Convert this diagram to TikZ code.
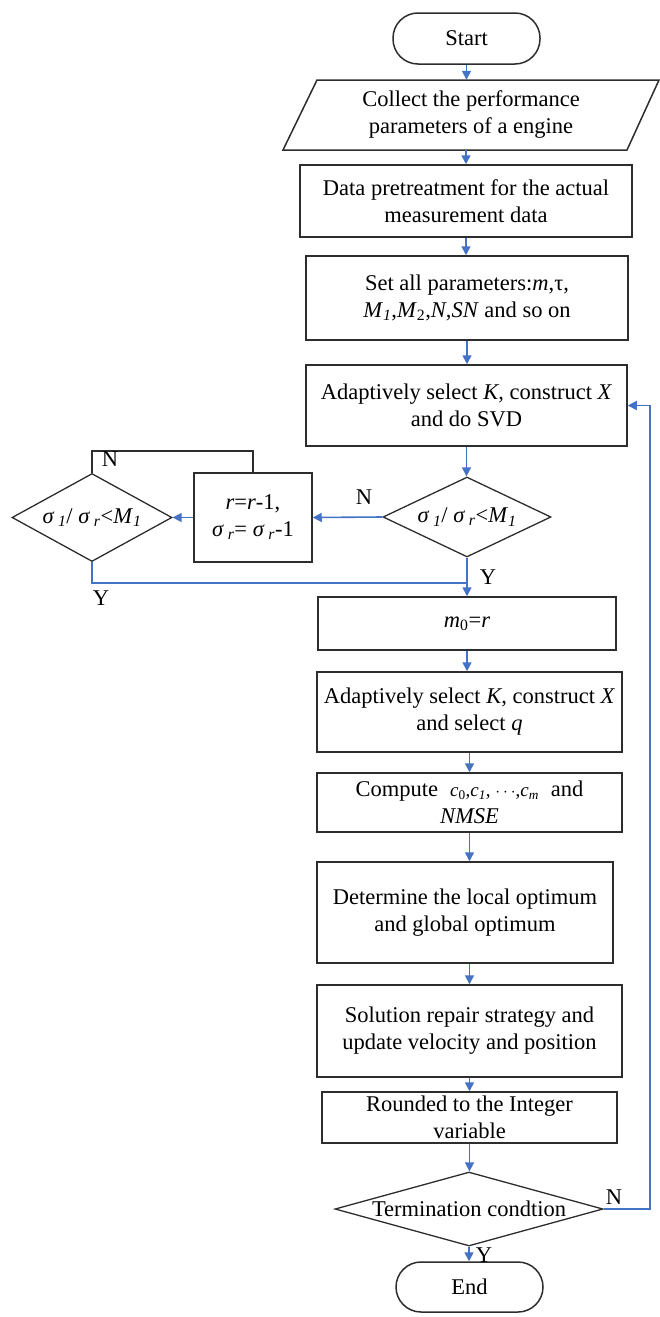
\documentclass[tikz,border=0pt]{standalone}
\usepackage{fontspec}
\setmainfont{Liberation Serif}
\usetikzlibrary{shapes.geometric,arrows.meta,calc}
\definecolor{flowblue}{RGB}{68,114,196}
\definecolor{edgegray}{RGB}{45,45,45}
\begin{document}
\begin{tikzpicture}[x=1pt,y=-1pt,
  every node/.style={font=\fontsize{22.5}{27}\selectfont},
  box/.style={draw=edgegray,line width=1.5pt,rectangle,inner sep=0pt,align=center},
  termbox/.style={draw=edgegray,line width=1.5pt,rectangle,rounded corners=25pt,inner sep=0pt},
  dia/.style={draw=edgegray,line width=1.3pt,diamond,inner sep=0pt},
  arr/.style={draw=flowblue,line width=1.6pt,-{Triangle[length=9pt,width=9pt]}},
  bl/.style={draw=flowblue,line width=1.6pt},
  blk/.style={draw=edgegray,line width=1.5pt},
  lab/.style={inner sep=0pt}]
\useasboundingbox (0,0) rectangle (660,1317);

% nodes
\node[termbox,minimum width=147pt,minimum height=51pt] (start) at (466.5,38.5) {Start};
\draw[blk] (317,80) -- (659,80) -- (627,150) -- (283,150) -- cycle;
\node[align=center,inner sep=0pt,minimum height=70pt,minimum width=300pt] (collect) at (471,115) {Collect the performance\\parameters of a engine};
\node[box,minimum width=332pt,minimum height=72pt] (data) at (466,201) {Data pretreatment for the actual\\measurement data};
\node[box,minimum width=322pt,minimum height=84pt] (setp) at (467,298) {Set all parameters:\textit{m},τ,\\\textit{M}\textsubscript{\textit{1}},\textit{M}\textsubscript{2},\textit{N},\textit{SN} and so on};
\node[box,minimum width=321pt,minimum height=81pt] (adaptA) at (466.5,405.5) {Adaptively select \textit{K}, construct \textit{X}\\and do SVD};
\node[dia,minimum width=168pt,minimum height=80pt] (dA) at (467,517) {};
\node at (dA) {\textit{σ}\,\textsubscript{\textit{1}}/ \textit{σ}\,\textsubscript{\textit{r}}<\textit{M}\textsubscript{\textit{1}}};
\node[box,minimum width=118pt,minimum height=89pt] (dec) at (253,517.5) {\textit{r}=\textit{r}-1,\\\textit{σ}\,\textsubscript{\textit{r}}= \textit{σ}\,\textsubscript{\textit{r}}-1};
\node[dia,minimum width=160pt,minimum height=88pt] (dB) at (92,517.5) {};
\node at (dB) {\textit{σ}\,\textsubscript{\textit{1}}/ \textit{σ}\,\textsubscript{\textit{r}}<\textit{M}\textsubscript{\textit{1}}};
\node[box,minimum width=298pt,minimum height=53pt] (mzero) at (467,623.5) {\textit{m}\textsubscript{0}=\textit{r}};
\node[box,minimum width=305pt,minimum height=80pt] (adaptB) at (469.5,712) {Adaptively select \textit{K}, construct \textit{X}\\and select \textit{q}};
\node[box,minimum width=305pt,minimum height=59pt] (comp) at (469.5,802.5) {Compute\; {\fontsize{19}{27}\selectfont\textit{c}\textsubscript{0},\textit{c}\textsubscript{\textit{1}}, $\cdots$,\textit{c}\textsubscript{\textit{m}}}\; and\\\textit{NMSE}};
\node[box,minimum width=296pt,minimum height=101pt] (determ) at (465,912.5) {Determine the local optimum\\and global optimum};
\node[box,minimum width=305pt,minimum height=92pt] (sol) at (469.5,1031) {Solution repair strategy and\\update velocity and position};
\node[box,minimum width=295pt,minimum height=51pt] (rnd) at (469.5,1117.5) {Rounded to the Integer\\variable};
\node[dia,minimum width=268pt,minimum height=74pt] (termd) at (469,1209) {};
\node at (termd) {Termination condtion};
\node[termbox,minimum width=147pt,minimum height=50pt] (stop) at (469.5,1287) {End};

% connectors
\draw[arr] (start.south) -- (start.south |- collect.north);
\draw[arr] (data.north |- collect.south) -- (data.north);
\draw[arr] (data.south) -- (data.south |- setp.north);
\draw[arr] (setp.south) -- (setp.south |- adaptA.north);
\draw[arr] (adaptA.south) -- (adaptA.south |- dA.north);
\draw[arr] (dA.west) -- (dec.east);
\node[lab] at (364,497) {N};
\draw[arr] (dec.west) -- (dB.east);
\coordinate (nloop) at (92,451);
\draw[blk] (dec.north) |- (nloop) -- (dB.north);
\node[lab] at (110,459) {N};
\coordinate (yjoin) at (467,583);
\draw[bl] (dB.south) |- (yjoin);
\draw[arr] (dA.south) -- (dA.south |- mzero.north);
\node[lab] at (101,598) {Y};
\node[lab] at (488,577) {Y};
\draw[arr] (mzero.south) -- (mzero.south |- adaptB.north);
\draw[arr] (adaptB.south) -- (adaptB.south |- comp.north);
\draw[arr] (comp.south) -- (comp.south |- determ.north);
\draw[arr] (comp.south |- determ.south) -- (comp.south |- sol.north);
\draw[arr] (sol.south) -- (sol.south |- rnd.north);
\draw[arr] (rnd.south) -- (rnd.south |- termd.north);
\coordinate (fb) at (650,1209);
\draw[arr] (termd.east) -- (fb) |- (adaptA.east);
\node[lab] at (614,1197) {N};
\draw[arr] (termd.south) -- (termd.south |- stop.north);
\node[lab] at (484,1255) {Y};
\end{tikzpicture}
\end{document}
